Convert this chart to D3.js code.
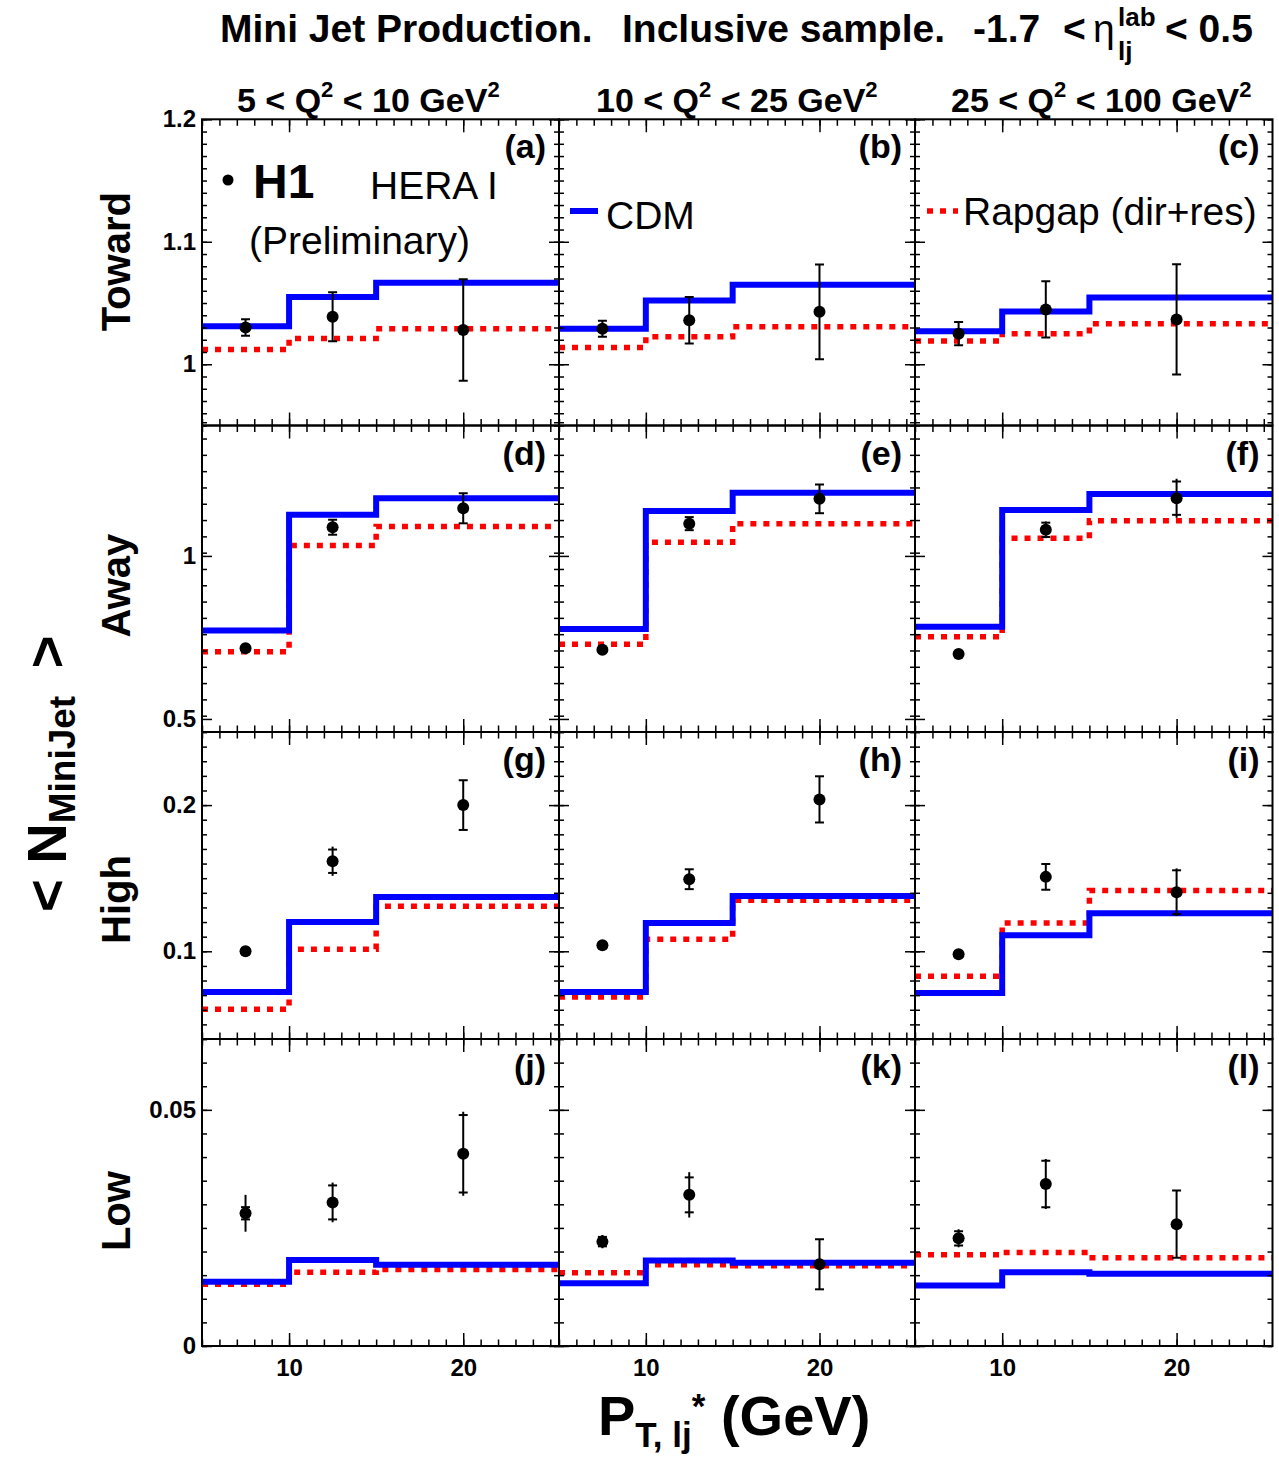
<!DOCTYPE html>
<html>
<head>
<meta charset="utf-8">
<script src="https://cdn.jsdelivr.net/npm/d3@7"></script>
<style>
body { margin: 0; background: #fff; }
text { font-family: "Liberation Sans", Arial, Helvetica, sans-serif; }
</style>
</head>
<body>
<div id="chart"></div>
<script>
var width = 1279;
var height = 1458;

// ---- data ----
var binEdges = [5, 10, 15, 30];
var ptCenters = [7.5, 12.5, 20];
var xDomain = [5, 25.5];
var xMajorTicks = [10, 20];
var xTickLabels = ["10", "20"];

var rowNames = ["Toward", "Away", "High", "Low"];
var panelLetters = ["a", "b", "c", "d", "e", "f", "g", "h", "i", "j", "k", "l"];
var yDomains = [[0.95, 1.2], [0.46, 1.4], [0.04, 0.25], [0, 0.065]];
var yMajorTicks = [[1, 1.1, 1.2], [0.5, 1], [0.1, 0.2], [0, 0.05]];
var yTickLabels = [["1", "1.1", "1.2"], ["0.5", "1"], ["0.1", "0.2"], ["0", "0.05"]];
var yMinorStep = [0.01, 0.05, 0.01, 0.005];

// [column][bin]  columns: 5-10, 10-25, 25-100 GeV^2
var cdmToward = [[1.031, 1.055, 1.0665], [1.029, 1.052, 1.065], [1.027, 1.043, 1.0546]];
var rapToward = [[1.012, 1.021, 1.029], [1.0137, 1.0224, 1.0306], [1.019, 1.025, 1.033]];
var h1Toward = [[1.030, 1.0387, 1.028], [1.029, 1.036, 1.0428], [1.025, 1.0448, 1.0366]];
var statToward = [[0.0067, 0.020, 0.0415], [0.0065, 0.019, 0.0387], [0.0095, 0.023, 0.045]];
var totToward = [[0.0067, 0.020, 0.0415], [0.0065, 0.019, 0.0387], [0.0095, 0.023, 0.045]];

var cdmAway = [[0.771, 1.126, 1.177], [0.776, 1.138, 1.194], [0.783, 1.141, 1.19]];
var rapAway = [[0.7065, 1.032, 1.09], [0.729, 1.042, 1.099], [0.752, 1.054, 1.108]];
var h1Away = [[0.717, 1.088, 1.146], [0.712, 1.099, 1.175], [0.699, 1.080, 1.177]];
var statAway = [[0.004, 0.023, 0.046], [0.004, 0.020, 0.044], [0.004, 0.022, 0.051]];
var totAway = [[0.004, 0.023, 0.046], [0.004, 0.020, 0.044], [0.004, 0.0255, 0.060]];

var cdmHigh = [[0.0721, 0.1201, 0.1372], [0.0721, 0.1194, 0.1379], [0.0714, 0.111, 0.126]];
var rapHigh = [[0.0603, 0.1014, 0.1308], [0.0687, 0.1082, 0.1349], [0.0829, 0.1194, 0.1416]];
var h1High = [[0.100, 0.1616, 0.200], [0.1041, 0.1493, 0.2039], [0.098, 0.1509, 0.1404]];
var statHigh = [[0.002, 0.008, 0.017], [0.002, 0.0068, 0.0158], [0.002, 0.0088, 0.015]];
var totHigh = [[0.002, 0.010, 0.017], [0.002, 0.0068, 0.0158], [0.002, 0.0088, 0.0163]];

var cdmLow = [[0.0136, 0.0182, 0.0172], [0.0133, 0.0181, 0.0176], [0.0128, 0.0156, 0.0153]];
var rapLow = [[0.0131, 0.0156, 0.0162], [0.0155, 0.0172, 0.0170], [0.0193, 0.0198, 0.0187]];
var h1Low = [[0.0281, 0.0304, 0.0407], [0.0221, 0.032, 0.0173], [0.0228, 0.0343, 0.0258]];
var statLow = [[0.0013, 0.0036, 0.0082], [0.0010, 0.0037, 0.0053], [0.0015, 0.0049, 0.0071]];
var totLow = [[0.0039, 0.0042, 0.0089], [0.0014, 0.0048, 0.0053], [0.0019, 0.0053, 0.0071]];

var cdmRows = [cdmToward, cdmAway, cdmHigh, cdmLow];
var rapRows = [rapToward, rapAway, rapHigh, rapLow];
var h1Rows = [h1Toward, h1Away, h1High, h1Low];
var statRows = [statToward, statAway, statHigh, statLow];
var totRows = [totToward, totAway, totHigh, totLow];

// ---- layout ----
var colLeft = [202, 559, 915];
var colRight = [559, 915, 1272.5];
var rowTop = [119.3, 425.5, 732, 1039];
var rowBottom = [425.5, 732, 1039, 1346];

var svg = d3.select("#chart")
    .append("svg")
    .attr("width", width)
    .attr("height", height);

svg.append("rect").attr("width", width).attr("height", height).attr("fill", "#fff");

function histPts(vals) {
    var pts = vals.map(function (v, i) { return [binEdges[i], v]; });
    pts.push([binEdges[binEdges.length - 1], vals[vals.length - 1]]);
    return pts;
}

function minorVals(dom, stepv) {
    var n = Math.round((dom[1] - dom[0]) / stepv);
    return d3.range(n + 1).map(function (i) { return +(dom[0] + i * stepv).toFixed(5); });
}

function styleAxis(ax) {
    ax.select(".domain").remove();
    ax.selectAll(".tick line").attr("stroke", "#000").attr("stroke-width", 1.5);
    ax.selectAll("text")
        .attr("fill", "#000")
        .style("font-size", "24px")
        .style("font-weight", "bold")
        .style("font-family", '"Liberation Sans", Arial, sans-serif');
}

for (var r = 0; r < 4; r++) {
    for (var c = 0; c < 3; c++) {
        var w = colRight[c] - colLeft[c];
        var h = rowBottom[r] - rowTop[r];
        var g = svg.append("g").attr("transform", "translate(" + colLeft[c] + "," + rowTop[r] + ")");

        var x = d3.scaleLinear().domain(xDomain).range([0, w]);
        var y = d3.scaleLinear().domain(yDomains[r]).range([h, 0]);

        var clipId = "clip" + r + "_" + c;
        g.append("clipPath").attr("id", clipId)
            .append("rect").attr("width", w).attr("height", h);
        var plot = g.append("g").attr("clip-path", "url(#" + clipId + ")");

        var step = d3.line()
            .x(function (d) { return x(d[0]); })
            .y(function (d) { return y(d[1]); })
            .curve(d3.curveStepAfter);

        // Rapgap (red dotted)
        plot.append("path")
            .datum(histPts(rapRows[r][c]))
            .attr("d", step)
            .attr("fill", "none")
            .attr("stroke", "#ff0000")
            .attr("stroke-width", 5.5)
            .attr("stroke-dasharray", "6 7");

        // CDM (blue)
        plot.append("path")
            .datum(histPts(cdmRows[r][c]))
            .attr("d", step)
            .attr("fill", "none")
            .attr("stroke", "#0000ff")
            .attr("stroke-width", 6);

        // H1 data with errors
        var pts = ptCenters.map(function (p, i) {
            return { x: p, v: h1Rows[r][c][i], s: statRows[r][c][i], t: totRows[r][c][i] };
        });
        var eb = plot.selectAll(".eb").data(pts).enter().append("g").attr("class", "eb");
        eb.append("line")
            .attr("x1", function (d) { return x(d.x); })
            .attr("x2", function (d) { return x(d.x); })
            .attr("y1", function (d) { return y(d.v - d.t); })
            .attr("y2", function (d) { return y(d.v + d.t); })
            .attr("stroke", "#000").attr("stroke-width", 2);
        eb.append("line")
            .attr("x1", function (d) { return x(d.x) - 4.5; })
            .attr("x2", function (d) { return x(d.x) + 4.5; })
            .attr("y1", function (d) { return y(d.v + d.s); })
            .attr("y2", function (d) { return y(d.v + d.s); })
            .attr("stroke", "#000").attr("stroke-width", 2);
        eb.append("line")
            .attr("x1", function (d) { return x(d.x) - 4.5; })
            .attr("x2", function (d) { return x(d.x) + 4.5; })
            .attr("y1", function (d) { return y(d.v - d.s); })
            .attr("y2", function (d) { return y(d.v - d.s); })
            .attr("stroke", "#000").attr("stroke-width", 2);
        eb.append("circle")
            .attr("cx", function (d) { return x(d.x); })
            .attr("cy", function (d) { return y(d.v); })
            .attr("r", 6)
            .attr("fill", "#000");

        // axes (ticks inward on all four sides)
        var yMinor = minorVals(yDomains[r], yMinorStep[r]);
        var xMinor = d3.range(5, 26);
        var rr = r, cc = c;

        styleAxis(g.append("g").call(d3.axisLeft(y).tickValues(yMinor).tickSize(-5).tickFormat("")));
        styleAxis(g.append("g").call(d3.axisLeft(y).tickValues(yMajorTicks[r]).tickSize(-10).tickPadding(6)
            .tickFormat(function (d, i) { return cc === 0 ? yTickLabels[rr][i] : ""; })));
        styleAxis(g.append("g").attr("transform", "translate(" + w + ",0)")
            .call(d3.axisRight(y).tickValues(yMinor).tickSize(-5).tickFormat("")));
        styleAxis(g.append("g").attr("transform", "translate(" + w + ",0)")
            .call(d3.axisRight(y).tickValues(yMajorTicks[r]).tickSize(-10).tickFormat("")));

        styleAxis(g.append("g").attr("transform", "translate(0," + h + ")")
            .call(d3.axisBottom(x).tickValues(xMinor).tickSize(-6.5).tickFormat("")));
        styleAxis(g.append("g").attr("transform", "translate(0," + h + ")")
            .call(d3.axisBottom(x).tickValues(xMajorTicks).tickSize(-13).tickPadding(13)
                .tickFormat(function (d, i) { return rr === 3 ? xTickLabels[i] : ""; })));
        styleAxis(g.append("g").call(d3.axisTop(x).tickValues(xMinor).tickSize(-6.5).tickFormat("")));
        styleAxis(g.append("g").call(d3.axisTop(x).tickValues(xMajorTicks).tickSize(-13).tickFormat("")));

        // frame
        g.append("rect")
            .attr("width", w).attr("height", h)
            .attr("fill", "none").attr("stroke", "#000").attr("stroke-width", 2);

        // panel letter
        g.append("text")
            .attr("x", w - 13).attr("y", 39)
            .attr("text-anchor", "end")
            .style("font-size", "34px").style("font-weight", "bold")
            .text("(" + panelLetters[r * 3 + c] + ")");
    }

    // row label
    svg.append("text")
        .attr("transform", "translate(130," + (rowTop[r] + 212) + ") rotate(-90)")
        .attr("text-anchor", "start")
        .style("font-size", "40px").style("font-weight", "bold")
        .text(rowNames[r]);
}

// ---- title ----
function addText(xp, yp, str, size, weight) {
    return svg.append("text").attr("x", xp).attr("y", yp)
        .style("font-size", size + "px").style("font-weight", weight)
        .style("white-space", "pre").text(str);
}
addText(220, 42, "Mini Jet Production.", 39, "bold");
addText(622, 42, "Inclusive sample.", 39, "bold");
addText(973, 42, "-1.7", 39, "bold");
addText(1063, 42, "<", 39, "bold");
addText(1093, 42, "\u03B7", 39, "normal");
addText(1118, 26, "lab", 26, "bold");
addText(1118, 60, "lj", 26, "bold");
addText(1165, 42, "< 0.5", 39, "bold");

// ---- column headers ----
var colHeadMain = [["5 < Q", " < 10 GeV"], ["10 < Q", " < 25 GeV"], ["25 < Q", " < 100 GeV"]];
var colHeadX = [237, 596, 951];
colHeadMain.forEach(function (parts, i) {
    var t = svg.append("text").attr("x", colHeadX[i]).attr("y", 112)
        .style("font-size", "34px").style("font-weight", "bold").style("white-space", "pre");
    t.append("tspan").text(parts[0]);
    t.append("tspan").attr("dy", -15).style("font-size", "22px").text("2");
    t.append("tspan").attr("dy", 15).text(parts[1]);
    t.append("tspan").attr("dy", -15).style("font-size", "22px").text("2");
});

// ---- y title ----
var yt = svg.append("text")
    .attr("transform", "translate(66,912) rotate(-90)")
    .style("font-size", "56px").style("font-weight", "bold").style("white-space", "pre");
yt.append("tspan").text("< N");
yt.append("tspan").attr("dy", 9).style("font-size", "37px").text("MiniJet");
yt.append("tspan").attr("dy", -9).attr("dx", 12).text(" >");

// ---- x title ----
var xt = svg.append("text").attr("x", 598).attr("y", 1435)
    .style("font-size", "56px").style("font-weight", "bold").style("white-space", "pre");
xt.append("tspan").text("P");
xt.append("tspan").attr("dy", 12).style("font-size", "35px").text("T, lj");
xt.append("tspan").attr("dy", -29).style("font-size", "35px").text("*");
xt.append("tspan").attr("dy", 17).text(" (GeV)");

// ---- legend ----
svg.append("circle").attr("cx", 228).attr("cy", 180).attr("r", 5.5).attr("fill", "#000");
addText(253, 198, "H1", 48, "bold");
addText(370, 199, "HERA I", 39, "normal");
addText(249, 254, "(Preliminary)", 39, "normal");

svg.append("line").attr("x1", 570).attr("x2", 598).attr("y1", 211).attr("y2", 211)
    .attr("stroke", "#0000ff").attr("stroke-width", 6);
addText(606, 229, "CDM", 39, "normal");

svg.append("line").attr("x1", 927).attr("x2", 958).attr("y1", 211).attr("y2", 211)
    .attr("stroke", "#ff0000").attr("stroke-width", 5.5).attr("stroke-dasharray", "6 7");
addText(963, 225, "Rapgap (dir+res)", 39, "normal");
</script>
</body>
</html>
